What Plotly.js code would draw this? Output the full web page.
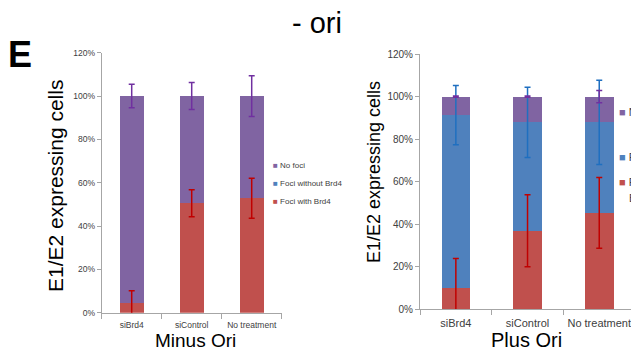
<!DOCTYPE html>
<html>
<head>
<meta charset="utf-8">
<script src="https://cdn.plot.ly/plotly-3.0.1.min.js"></script>
<style>
html,body{margin:0;padding:0;background:#fff;overflow:hidden;}
#chart{width:631px;height:354px;}
</style>
</head>
<body>
<div id="chart"></div>
<script>
// ---- data ----
const categories = ['siBrd4', 'siControl', 'No treatment'];
const seriesNames = ['Foci with Brd4', 'Foci without Brd4', 'No foci'];

// Minus Ori (percent)
const minusWith = [4.3, 50.5, 52.8];
const minusWithout = [0, 0, 0];
const minusNoFoci = [95.7, 49.5, 47.2];
const minusWithErr = [5.8, 6.2, 9.2];
const minusNoFociErr = [5.4, 6.2, 9.4];

// Plus Ori (percent)
const plusWith = [9.8, 36.9, 45.3];
const plusWithout = [81.5, 51.0, 42.6];
const plusNoFoci = [8.7, 12.1, 12.1];
const plusWithErr = [14.1, 16.9, 16.6];
const plusWithoutErr = [13.9, 16.5, 19.8];
const plusNoFociErr = [0.3, 0.3, 2.9];

const yTicks = [0, 20, 40, 60, 80, 100, 120];

// ---- styles ----
const W = 631, H = 354;
const barColors = ['#C0504D', '#4F81BD', '#8064A2'];
const errColors = ['#C00000', '#1F6FC0', '#7030A0'];
const axisColor = '#A6A6A6';
const tickColor = '#404040';
const FONT = 'Liberation Sans, Arial, sans-serif';
const px = v => v / W;
const py = v => (H - v) / H;

function cum(arrs, k) {
  return arrs[0].map((_, i) => arrs.slice(0, k + 1).reduce((s, a) => s + a[i], 0));
}

const traces = [];
function addPanel(xa, ya, vals, errs) {
  vals.forEach((v, k) => {
    traces.push({
      type: 'bar', x: categories, y: v, name: seriesNames[k],
      marker: {color: barColors[k], line: {width: 0}},
      xaxis: xa, yaxis: ya, showlegend: false, hoverinfo: 'skip', width: 0.4
    });
  });
  errs.forEach((e, k) => {
    if (!e) return;
    traces.push({
      type: 'scatter', mode: 'markers', x: categories, y: cum(vals, k),
      marker: {size: 2, opacity: 0},
      error_y: {type: 'data', array: e, visible: true, color: errColors[k], thickness: 1.5, width: 3},
      xaxis: xa, yaxis: ya, showlegend: false, hoverinfo: 'skip', cliponaxis: false
    });
  });
}
addPanel('x', 'y', [minusWith, minusWithout, minusNoFoci], [minusWithErr, null, minusNoFociErr]);
addPanel('x2', 'y2', [plusWith, plusWithout, plusNoFoci], [plusWithErr, plusWithoutErr, plusNoFociErr]);

function xAx(domain, range, fs, standoff) {
  return {domain: domain, range: range, type: 'category', showline: true, linecolor: axisColor, linewidth: 1,
    ticks: 'outside', tickson: 'boundaries', ticklen: 5, tickcolor: axisColor, tickangle: 0,
    ticklabelstandoff: standoff,
    tickfont: {family: FONT, size: fs, color: tickColor}, showgrid: false, zeroline: false, fixedrange: true};
}
function yAx(domain, fs, anchor) {
  return {domain: domain, range: [0, 120], tickvals: yTicks, ticktext: yTicks.map(t => t + '%'),
    showline: true, linecolor: axisColor, linewidth: 1, ticks: 'outside', ticklen: 4, tickcolor: axisColor,
    tickfont: {family: FONT, size: fs, color: tickColor}, showgrid: false, zeroline: false, fixedrange: true, anchor: anchor};
}

const annotations = [
  {text: '<b>E</b>', x: px(20), y: py(55), font: {family: FONT, size: 36, color: '#000'}},
  {text: 'E1/E2 expressing cells', x: px(56), y: py(186), textangle: -90, font: {family: FONT, size: 21, color: '#000'}},
  {text: 'E1/E2 expressing cells', x: px(374), y: py(172), textangle: -90, font: {family: FONT, size: 18, color: '#000'}},
  {text: 'Minus Ori', x: px(195), y: py(340), font: {family: FONT, size: 19, color: '#000'}},
  {text: 'Plus Ori', x: px(526), y: py(340), font: {family: FONT, size: 20, color: '#000'}}
].map(a => Object.assign({xref: 'paper', yref: 'paper', showarrow: false, xanchor: 'center', yanchor: 'middle'}, a));

// legends (built from series names, top item = last series)
const legLeftY = [165, 183.3, 201];
const legRightY = [111.7, 156.7, 181.7];
[2, 1, 0].forEach((k, i) => {
  annotations.push({xref: 'paper', yref: 'paper', showarrow: false, xanchor: 'left', yanchor: 'middle',
    x: px(270.5), y: py(legLeftY[i]),
    text: '<span style="color:' + barColors[k] + '">■</span> ' + seriesNames[k],
    font: {family: FONT, size: 8, color: tickColor}});
  annotations.push({xref: 'paper', yref: 'paper', showarrow: false, xanchor: 'left', yanchor: 'middle',
    x: px(617), y: py(legRightY[i]),
    text: '<span style="color:' + barColors[k] + '">■</span> ' + (k === 0 ? 'Foci with' : seriesNames[k]),
    font: {family: FONT, size: 11, color: tickColor}});
});
annotations.push({xref: 'paper', yref: 'paper', showarrow: false, xanchor: 'left', yanchor: 'middle',
  x: px(627), y: py(198), text: 'Brd4', font: {family: FONT, size: 11, color: tickColor}});

const layout = {
  width: W, height: H, margin: {l: 0, r: 0, t: 0, b: 0},
  paper_bgcolor: '#fff', plot_bgcolor: '#fff',
  barmode: 'stack', showlegend: false,
  title: {text: '- ori', x: px(317), xanchor: 'center', y: py(23), yanchor: 'middle', yref: 'paper',
    font: {family: FONT, size: 29, color: '#000'}},
  xaxis: xAx([px(101.7), px(281.7)], [-0.5, 2.5], 8.5, 4),
  yaxis: yAx([py(312.7), py(52.7)], 8.5, 'x'),
  xaxis2: Object.assign(xAx([px(420), 1], [-0.5, 2.443], 11, 3), {anchor: 'y2'}),
  yaxis2: yAx([py(309.3), py(54)], 10, 'x2'),
  annotations: annotations
};
layout.xaxis.anchor = 'y';

Plotly.newPlot('chart', traces, layout, {displayModeBar: false, staticPlot: true});
</script>
</body>
</html>
